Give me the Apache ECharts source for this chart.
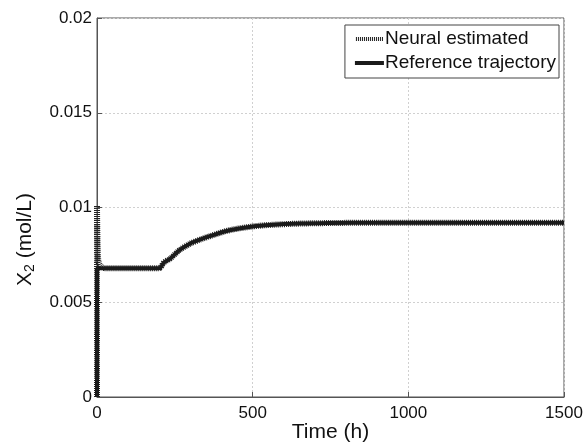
<!DOCTYPE html>
<html><head><meta charset="utf-8">
<script src="https://cdn.jsdelivr.net/npm/echarts@6/dist/echarts.min.js"></script>
<style>html,body{margin:0;padding:0;background:#fff}#c{width:587px;height:444px}</style>
</head><body><div id="c"></div>
<script>
const xTicks = [0, 500, 1000, 1500];
const yTicks = [0, 0.005, 0.01, 0.015, 0.02];
const timeRef = [0, 0, 200, 215, 235, 265, 300, 330, 365, 425, 500, 555, 650, 750, 900, 1500];
const valRef = [0, 0.0068, 0.0068, 0.0071, 0.0073, 0.00775, 0.0081, 0.0083, 0.0085, 0.0088, 0.0090, 0.00908, 0.00915, 0.00918, 0.0092, 0.0092];
const timeNN = [0, 0, 4, 12, 25, 200, 215, 235, 265, 300, 330, 365, 425, 500, 555, 650, 750, 900, 1500];
const valNN = [0, 0.0101, 0.0072, 0.0069, 0.0068, 0.0068, 0.0071, 0.0073, 0.00775, 0.0081, 0.0083, 0.0085, 0.0088, 0.0090, 0.00908, 0.00915, 0.00918, 0.0092, 0.0092];

const refData = timeRef.map((t, i) => [t, valRef[i]]);
const nnData = timeNN.map((t, i) => [t, valNN[i]]);
const font = 'Liberation Sans, Arial, sans-serif';
let dots = '';
for (let k = 0; k < 14; k++) dots += 'M' + (k * 2) + ',0h1v4h-1z';
const chart = echarts.init(document.getElementById('c'));
chart.setOption({
  animation: false,
  grid: {left: 97, right: 23, top: 18, bottom: 47, show: true, borderColor: '#555', borderWidth: 1, containLabel: false, outerBoundsMode: 'none'},
  legend: {
    orient: 'vertical', right: 28, top: 25, itemWidth: 29, itemHeight: 4, itemGap: 4,
    backgroundColor: '#fff', borderColor: '#444', borderWidth: 1, padding: [4, 3, 5, 10],
    textStyle: {fontFamily: font, fontSize: 19, color: '#111', padding: [0, 0, 0, -4], lineHeight: 20},
    itemStyle: {color: '#1a1a1a', borderWidth: 0},
    lineStyle: {width: 0},
    data: [
      {name: 'Neural estimated', icon: 'path://' + dots},
      {name: 'Reference trajectory', icon: 'rect'}
    ]
  },
  xAxis: {
    type: 'value', min: xTicks[0], max: xTicks[xTicks.length - 1], interval: 500,
    name: 'Time (h)', nameLocation: 'middle', nameGap: 25, nameMoveOverlap: false,
    nameTextStyle: {fontFamily: font, fontSize: 21, color: '#111'},
    axisLine: {lineStyle: {color: '#555'}},
    axisTick: {inside: true, length: 5, lineStyle: {color: '#555'}},
    axisLabel: {fontFamily: font, fontSize: 17, color: '#111', margin: 8, formatter: v => String(v)},
    splitLine: {show: true, lineStyle: {color: '#d0d0d0', type: [2, 2]}}
  },
  yAxis: {
    type: 'value', min: yTicks[0], max: yTicks[yTicks.length - 1], interval: 0.005,
    name: '{a|X}{b|2}{a| (mol/L)}', nameLocation: 'middle', nameGap: 60, nameRotate: 90, nameMoveOverlap: false,
    nameTextStyle: {padding: [0, 64, 0, 0], rich: {a: {fontFamily: font, fontSize: 21, color: '#111', lineHeight: 24}, b: {fontFamily: font, fontSize: 14, color: '#111', verticalAlign: 'bottom', lineHeight: 16, padding: [10, 0, 0, 0]}}},
    axisLine: {lineStyle: {color: '#555'}},
    axisTick: {inside: true, length: 5, lineStyle: {color: '#555'}},
    axisLabel: {fontFamily: font, fontSize: 17, color: '#111', margin: 5, formatter: v => String(+v.toFixed(3))},
    splitLine: {show: true, lineStyle: {color: '#d0d0d0', type: [2, 2]}}
  },
  series: [
    {name: 'Neural estimated', type: 'line', data: nnData, showSymbol: false, symbol: 'none', smooth: 0.3,
     lineStyle: {color: '#222', width: 6, type: [1, 1]}, itemStyle: {color: '#222'}, z: 2},
    {name: 'Reference trajectory', type: 'line', data: refData, showSymbol: false, symbol: 'none', smooth: 0.3,
     lineStyle: {color: '#1a1a1a', width: 4}, itemStyle: {color: '#1a1a1a'}, z: 3}
  ]
});
</script></body></html>
